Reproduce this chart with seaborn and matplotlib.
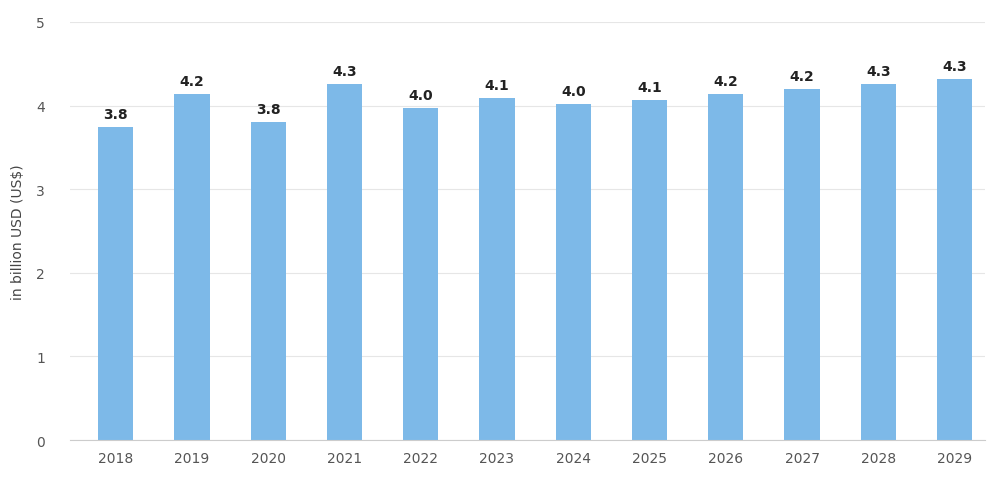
import matplotlib
matplotlib.use("Agg")
import matplotlib.pyplot as plt
import seaborn as sns
import pandas as pd

years = ["2018", "2019", "2020", "2021", "2022", "2023", "2024", "2025", "2026", "2027", "2028", "2029"]
revenue = [3.75, 4.14, 3.80, 4.26, 3.97, 4.09, 4.02, 4.07, 4.14, 4.20, 4.26, 4.32]
bar_labels = ["3.8", "4.2", "3.8", "4.3", "4.0", "4.1", "4.0", "4.1", "4.2", "4.2", "4.3", "4.3"]

df = pd.DataFrame({"year": years, "revenue": revenue})

fig = plt.figure(figsize=(10, 4.89), dpi=100)
ax = fig.add_axes([0.07, 0.098, 0.915, 0.855])
sns.barplot(data=df, x="year", y="revenue", color="#7db9e8", saturation=1, width=0.46, ax=ax, zorder=2)

for i, (v, lab) in enumerate(zip(revenue, bar_labels)):
    ax.text(i, v + 0.07, lab, ha="center", va="bottom", fontsize=10, fontweight="bold", color="#222222")

ax.set_ylim(0, 5)
ax.set_yticks(range(6))
ax.set_xlim(-0.6, 11.4)
ax.grid(axis="y", color="#e6e6e6", linewidth=0.8, zorder=0)
ax.set_axisbelow(True)
for s in ["top", "right", "left"]:
    ax.spines[s].set_visible(False)
ax.spines["bottom"].set_color("#cccccc")
ax.tick_params(axis="y", length=0, labelsize=10, colors="#555555", pad=18)
ax.tick_params(axis="x", length=0, labelsize=10, colors="#555555", pad=8)
ax.set_xlabel("")
ax.set_ylabel("in billion USD (US$)", fontsize=10, color="#444444", labelpad=8)

fig.savefig("out.png", dpi=100)
